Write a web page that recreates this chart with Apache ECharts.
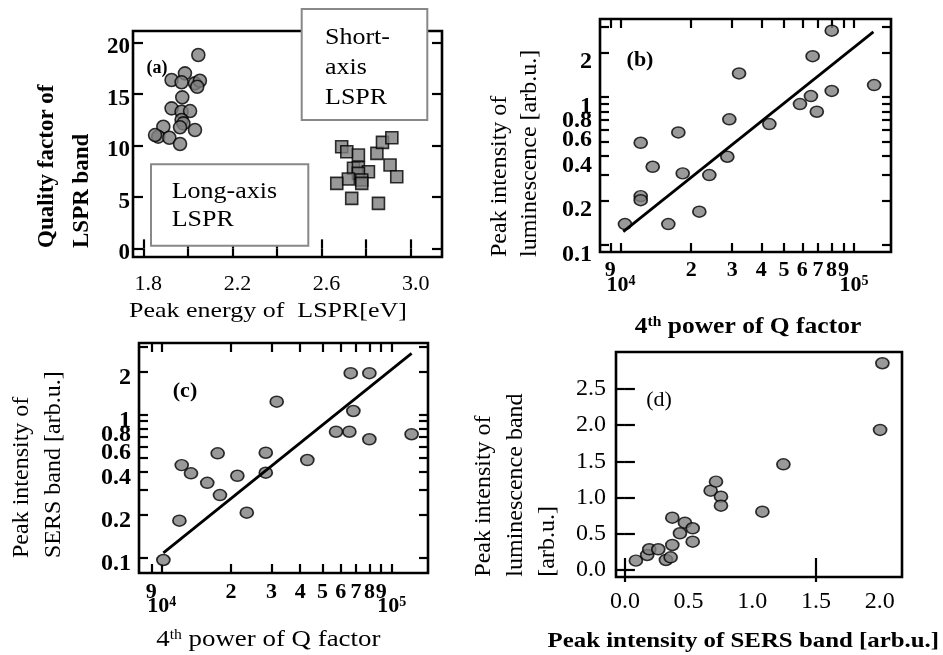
<!DOCTYPE html>
<html><head><meta charset="utf-8">
<script src="https://cdn.jsdelivr.net/npm/echarts@6/dist/echarts.min.js"></script>
<style>html,body{margin:0;padding:0;background:#fff}#c{width:943px;height:655px}</style>
</head><body><div id="c"></div><script>
// ---------- data ----------
// (a) Quality factor vs peak energy
const longAxisEnergy = [2.047,1.987,1.927,1.972,2.032,2.054,2.042,1.975,1.927,1.972,2.010,1.972,1.980,1.890,1.965,2.032,1.867,1.853,1.917,1.965];
const longAxisQ      = [18.77,16.99,16.34,16.12,16.02,16.27,15.69,14.66,13.59,13.26,13.33,12.46,12.13,11.81,11.75,11.49,10.84,11.00,10.74,10.13];
const shortAxisEnergy = [2.690,2.713,2.765,2.848,2.873,2.915,2.907,2.937,2.743,2.765,2.810,2.765,2.780,2.720,2.668,2.735,2.855,2.780];
const shortAxisQ      = [9.86,9.38,9.06,9.22,10.29,10.74,8.09,6.95,7.77,7.83,7.44,7.28,6.63,6.73,6.31,4.85,4.37,6.31];
// (b) luminescence vs Q^4
const bQ4  = [10400,12150,12150,12150,13680,17620,18400,15960,21680,23930,28590,29160,32100,43300,80200,66400,121900,80200,65300,58600,69200];
const bLum = [0.1386,0.491,0.214,0.201,0.338,0.577,0.305,0.1386,0.168,0.297,0.395,0.707,1.445,0.657,2.81,1.89,1.205,1.10,1.016,0.897,0.796];
const bFitQ4  = [10230,121000];
const bFitLum = [0.123,2.76];
// (c) SERS vs Q^4
const cQ4   = [10160,11930,12210,13400,15770,17500,17910,21320,23430,28340,28340,31620,42970,66370,79980,68130,57280,65480,79980,122100];
const cSers = [0.0964,0.1815,0.444,0.389,0.334,0.537,0.274,0.374,0.2065,0.542,0.393,1.233,0.482,1.95,1.95,1.061,0.760,0.760,0.673,0.730];
const cFitQ4   = [10160,122100];
const cFitSers = [0.108,2.68];
// (d) luminescence vs SERS
const dSers = [0.086,0.175,0.191,0.262,0.322,0.359,0.372,0.432,0.372,0.471,0.532,0.532,0.673,0.715,0.754,0.754,1.079,1.244,2.003,2.021];
const dLum  = [0.129,0.207,0.286,0.286,0.138,0.175,0.345,0.507,0.722,0.653,0.576,0.391,1.095,1.220,1.012,0.888,0.805,1.459,1.934,2.855];
// ticks / labels
const energyTicks  = [1.8,2.0,2.2,2.4,2.6,2.8,3.0];
const energyLabels = [1.8,2.2,2.6,3.0];
const qLabels      = [0,5,10,15,20];
const logYLabels   = [0.1,0.2,0.4,0.6,0.8,1,2];
const logYTicks    = [0.1,0.2,0.3,0.4,0.5,0.6,0.7,0.8,0.9,1,2,3];
const q4DigitLabels = [9000,20000,30000,40000,50000,60000,70000,80000,90000];
const q4PowerLabels = [10000,100000];
const q4Ticks = [9000,10000,20000,30000,40000,50000,60000,70000,80000,90000,100000];
const dYLabels = [0,0.5,1.0,1.5,2.0,2.5];
const dXLabels = [0,0.5,1.0,1.5,2.0];
const dXTicks  = [0,1.5];

// ---------- helpers ----------
const serif = '"Liberation Serif","Times New Roman",serif';
const zip = (a,b) => a.map((v,i)=>[v,b[i]]);
const tickLine = {color:'#000', width:2.2};
function axis(gi, type, min, max, position, ticks, len, label){
  const ax = {gridIndex:gi, type, min, max, position,
    axisLine:{show:false}, splitLine:{show:false}, minorTick:{show:false},
    axisTick: ticks ? {show:true, inside:true, length:len, customValues:ticks, lineStyle:tickLine} : {show:false},
    axisLabel: label ? Object.assign({show:true, color:'#000', fontFamily:serif}, label) : {show:false}};
  if (type==='log') ax.logBase = 10;
  return ax;
}
const digit = v => String(Math.round(v/Math.pow(10, Math.floor(Math.log10(v)+1e-9))));
const powLabel = (size) => ({formatter: v => '{b|10}{s|'+Math.round(Math.log10(v))+'}',
  rich:{b:{fontFamily:serif,fontSize:size,fontWeight:'bold',color:'#000'},
        s:{fontFamily:serif,fontSize:14,fontWeight:'bold',color:'#000',verticalAlign:'top'}}});

const gridStyle = {show:true, borderColor:'#000', borderWidth:2.6, backgroundColor:'transparent'};
const grids = [
  Object.assign({left:133, top:31, width:309, height:226}, gridStyle),
  Object.assign({left:600, top:19, width:291, height:233}, gridStyle),
  Object.assign({left:139, top:343, width:289, height:230}, gridStyle),
  Object.assign({left:616, top:352, width:286, height:225}, gridStyle)
];

const xAxes = [
  axis(0,'value',1.754,3.14,'bottom',energyTicks,9,{customValues:energyLabels, formatter:v=>v.toFixed(1), fontSize:22, margin:16, padding:[0,0,0,10]}),
  axis(0,'value',1.754,3.14,'top',energyTicks,9,null),
  axis(1,'log',8128,144000,'bottom',q4Ticks,9,{customValues:q4DigitLabels, formatter:digit, fontSize:22, fontWeight:'bold', margin:7}),
  axis(1,'log',8128,144000,'top',q4Ticks,9,null),
  axis(1,'log',8128,144000,'bottom',null,0,Object.assign({customValues:q4PowerLabels, margin:22}, powLabel(22))),
  axis(2,'log',7960,143900,'bottom',q4Ticks,9,{customValues:q4DigitLabels, formatter:digit, fontSize:22, fontWeight:'bold', margin:8}),
  axis(2,'log',7960,143900,'top',q4Ticks,9,null),
  axis(2,'log',7960,143900,'bottom',null,0,Object.assign({customValues:q4PowerLabels, margin:22}, powLabel(22))),
  axis(3,'value',-0.07,2.175,'bottom',dXTicks,12,{customValues:dXLabels, formatter:v=>v.toFixed(1), fontSize:24, margin:13}),
  axis(3,'value',-0.07,2.175,'top',dXTicks,12,null)
];
const yAxes = [
  axis(0,'value',-0.84,21.1,'left',qLabels,10,{customValues:qLabels, fontSize:23, fontWeight:'bold', margin:3, verticalAlign:'top', lineHeight:10}),
  axis(0,'value',-0.84,21.1,'right',qLabels,10,null),
  axis(1,'log',0.0897,3.37,'left',logYTicks,9,{customValues:logYLabels, formatter:v=>String(v), fontSize:24, fontWeight:'bold', margin:8, verticalAlign:'top', lineHeight:19}),
  axis(1,'log',0.0897,3.37,'right',logYTicks,9,null),
  axis(2,'log',0.0782,3.17,'left',logYTicks,9,{customValues:logYLabels, formatter:v=>String(v), fontSize:24, fontWeight:'bold', margin:8, verticalAlign:'top', lineHeight:12}),
  axis(2,'log',0.0782,3.17,'right',logYTicks,9,null),
  axis(3,'value',-0.097,3.01,'left',dYLabels,10,{customValues:dYLabels, formatter:v=>v.toFixed(1), fontSize:24, margin:10}),
  axis(3,'value',-0.097,3.01,'right',dYLabels,10,null)
];

const pt = {color:'#7f7f7f', borderColor:'#000', borderWidth:1.6};
const series = [
  {type:'scatter', xAxisIndex:0, yAxisIndex:0, symbol:'circle', symbolSize:13, itemStyle:pt, data:zip(longAxisEnergy,longAxisQ)},
  {type:'scatter', xAxisIndex:0, yAxisIndex:0, symbol:'rect', symbolSize:12, itemStyle:pt, data:zip(shortAxisEnergy,shortAxisQ)},
  {type:'scatter', xAxisIndex:2, yAxisIndex:2, symbol:'circle', symbolSize:[13,11], itemStyle:pt, data:zip(bQ4,bLum)},
  {type:'line', xAxisIndex:2, yAxisIndex:2, symbol:'none', lineStyle:{color:'#000', width:2.8}, data:zip(bFitQ4,bFitLum), z:3},
  {type:'scatter', xAxisIndex:5, yAxisIndex:4, symbol:'circle', symbolSize:[13,11], itemStyle:pt, data:zip(cQ4,cSers)},
  {type:'line', xAxisIndex:5, yAxisIndex:4, symbol:'none', lineStyle:{color:'#000', width:2.8}, data:zip(cFitQ4,cFitSers), z:3},
  {type:'scatter', xAxisIndex:8, yAxisIndex:6, symbol:'circle', symbolSize:[13,11], itemStyle:pt, data:zip(dSers,dLum)}
];

function text(x, y, str, size, extra, sx){
  return {type:'text', x, y, z:100, scaleX:sx||1,
    style:Object.assign({text:str, fontFamily:serif, fontSize:size, fill:'#000', align:'center', verticalAlign:'middle'}, extra||{})};
}
function vtext(x, y, str, size, lh, extra){
  return {type:'text', x, y, rotation:Math.PI/2, z:100,
    style:Object.assign({text:str, fontFamily:serif, fontSize:size, fill:'#000', align:'left', verticalAlign:'middle', lineHeight:lh}, extra||{})};
}
const supRich = (size, bold) => ({s:{fontFamily:serif, fontSize:Math.round(size*0.6), fontWeight:bold?'bold':'normal', verticalAlign:'top', fill:'#000'}});

const graphic = [
  // (a) annotation boxes
  {type:'rect', z:90, shape:{x:301.7, y:9, width:125.6, height:111}, style:{fill:'#fff', stroke:'#888', lineWidth:2}},
  text(325, 23, 'Short-\naxis\nLSPR', 23, {align:'left', verticalAlign:'top', lineHeight:30}, 1.13),
  {type:'rect', z:90, shape:{x:151, y:164.3, width:157.3, height:81.4}, style:{fill:'#fff', stroke:'#888', lineWidth:2}},
  text(171.7, 177.5, 'Long-axis\nLSPR', 23, {align:'left', verticalAlign:'top', lineHeight:28.5}, 1.13),
  // panel labels
  text(157, 68, '(a)', 18, {fontWeight:'bold'}),
  text(640, 60, '(b)', 22, {fontWeight:'bold'}),
  text(185, 391.7, '(c)', 22, {fontWeight:'bold'}),
  text(659, 400, '(d)', 22),
  // axis titles
  vtext(64.2, 248, 'Quality factor of\nLSPR band', 23, 35, {fontWeight:'bold'}),
  text(268, 311.7, 'Peak energy of  LSPR[eV]', 22, null, 1.18),
  vtext(515, 257, 'Peak intensity of\nluminescence [arb.u.]', 24, 30),
  text(748, 327, '4{s|th} power of Q factor', 23, {fontWeight:'bold', rich:supRich(23,true)}, 1.11),
  vtext(37.5, 558, 'Peak intensity of\nSERS band [arb.u.]', 24, 31.6),
  text(268.3, 640, '4{s|th} power of Q factor', 24, {rich:supRich(24,false)}, 1.12),
  vtext(515.6, 576.7, 'Peak intensity of\nluminescence band\n[arb.u.]', 24, 31.7),
  text(743.3, 641.7, 'Peak intensity of SERS band [arb.u.]', 22, {fontWeight:'bold'}, 1.13)
];

const chart = echarts.init(document.getElementById('c'), null, {renderer:'canvas'});
chart.setOption({animation:false, backgroundColor:'#fff', grid:grids, xAxis:xAxes, yAxis:yAxes, series, graphic});
</script></body></html>
